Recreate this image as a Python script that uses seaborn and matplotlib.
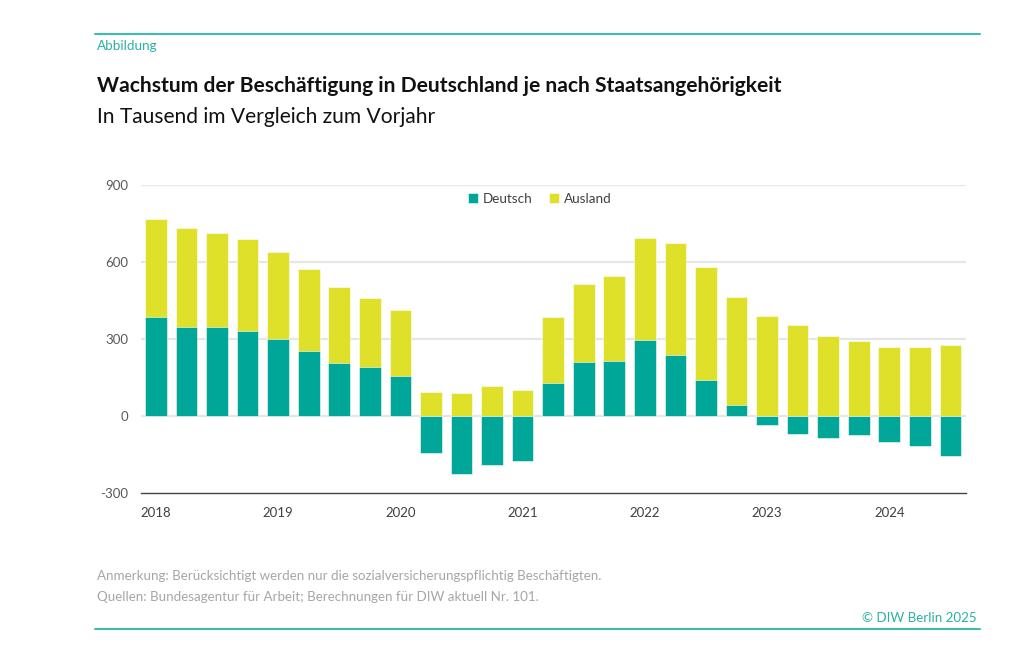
import matplotlib
matplotlib.use("Agg")
import matplotlib.pyplot as plt
from matplotlib.lines import Line2D
import numpy as np
import pandas as pd
import seaborn as sns

# quarterly values, 2018 Q1 .. 2024 Q3, in thousand
quarters = [f"{y} Q{q}" for y in range(2018, 2025) for q in range(1, 5)][:27]
deutsch = [388, 347, 347, 331, 300, 254, 208, 193, 158,
           -145, -225, -189, -174, 128, 212, 215, 297, 240, 140, 45,
           -34, -69, -83, -74, -102, -114, -153]
ausland = [380, 387, 368, 360, 341, 318, 296, 269, 254,
           96, 89, 117, 104, 257, 302, 331, 396, 435, 441, 420,
           392, 356, 311, 294, 269, 269, 277]
year_labels = ["2018", "2019", "2020", "2021", "2022", "2023", "2024"]
y_ticks = [-300, 0, 300, 600, 900]

TEAL = "#00a697"
YELLOW = "#dfe02a"
LINE_TEAL = "#3dbdaf"
TEXT_TEAL = "#2bb0a1"

df = pd.DataFrame({"quarter": quarters, "Deutsch": deutsch, "Ausland": ausland})
# Ausland sits on top of positive Deutsch, starts at 0 otherwise
df["top"] = df["Deutsch"].clip(lower=0) + df["Ausland"]

sns.set_style("white")
plt.rcParams["font.family"] = ["Lato", "DejaVu Sans"]

fig = plt.figure(figsize=(10.24, 6.69), dpi=100)
ax = fig.add_axes([140.7 / 1024, 1 - 493.3 / 669, 825 / 1024, (493.3 - 185) / 669])

sns.barplot(data=df, x="quarter", y="top", color=YELLOW, width=0.71,
            edgecolor="white", linewidth=0.4, saturation=1, label="Ausland", ax=ax)
sns.barplot(data=df, x="quarter", y="Deutsch", color=TEAL, width=0.71,
            edgecolor="white", linewidth=0.4, saturation=1, label="Deutsch", ax=ax)

ax.set_xlim(-0.5, len(quarters) - 0.5)
ax.set_ylim(-300, 900)
ax.set_xlabel("")
ax.set_ylabel("")

ax.set_yticks(y_ticks[1:])
ax.set_yticklabels([str(v) for v in y_ticks[1:]])
ax.set_yticks([-300], minor=True)
ax.set_yticklabels(["-300"], minor=True)
ax.tick_params(axis="y", which="both", length=0, pad=9, labelsize=9.5, labelcolor="#595959")
for v in y_ticks[1:]:
    ax.axhline(v, color="#e6e6e6", lw=1.6, zorder=0)

ax.set_xticks(np.arange(0, len(quarters), 4))
ax.set_xticklabels(year_labels)
ax.set_xticks(np.arange(-0.5, len(quarters), 1), minor=True)
ax.tick_params(axis="x", which="major", length=0, pad=10, labelsize=9.5, labelcolor="#404040")
ax.tick_params(axis="x", which="minor", length=5, width=1, color="#444444", direction="out")

for s in ["top", "right", "left"]:
    ax.spines[s].set_visible(False)
ax.spines["bottom"].set_color("#444444")
ax.spines["bottom"].set_linewidth(1)

handles, labels = ax.get_legend_handles_labels()
order = [labels.index("Deutsch"), labels.index("Ausland")]
ax.legend([handles[i] for i in order], [labels[i] for i in order],
          loc="center", bbox_to_anchor=(0.484, 0.955), ncol=2, frameon=False,
          handlelength=0.7, handleheight=0.7, handletextpad=0.4, columnspacing=1.2,
          fontsize=9.7, labelcolor="#404040")

# header and footer
fig.add_artist(Line2D([95 / 1024, 980 / 1024], [1 - 34 / 669] * 2, color=LINE_TEAL, lw=1.5))
fig.add_artist(Line2D([95 / 1024, 980 / 1024], [1 - 629 / 669] * 2, color=LINE_TEAL, lw=1.5))
fig.text(97 / 1024, 1 - 46 / 669, "Abbildung", color=TEXT_TEAL, fontsize=9.7, va="center")
fig.text(97 / 1024, 1 - 86 / 669, "Wachstum der Beschäftigung in Deutschland je nach Staatsangehörigkeit",
         fontsize=15.1, fontweight="bold", color="#111111", va="center")
fig.text(97 / 1024, 1 - 117 / 669, "In Tausend im Vergleich zum Vorjahr",
         fontsize=15.1, color="#111111", va="center")
fig.text(97 / 1024, 1 - 576 / 669,
         "Anmerkung: Berücksichtigt werden nur die sozialversicherungspflichtig Beschäftigten.",
         fontsize=9.65, color="#a6a6a6", va="center")
fig.text(97 / 1024, 1 - 597 / 669,
         "Quellen: Bundesagentur für Arbeit; Berechnungen für DIW aktuell Nr. 101.",
         fontsize=9.65, color="#a6a6a6", va="center")
fig.text(977 / 1024, 1 - 618 / 669, "© DIW Berlin 2025", fontsize=9.6, color=TEXT_TEAL,
         ha="right", va="center")

fig.savefig("out.png", dpi=100)
